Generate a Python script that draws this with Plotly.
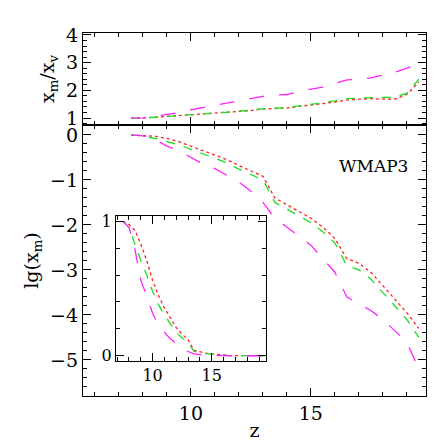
import plotly.graph_objects as go

z = [7.5,8,8.5,9,9.5,10,10.5,11,11.5,12,12.5,13,13.5,14,14.5,15,15.5,16,16.5,17,17.5,18,18.5,19,19.5]
lg_red = [0,-0.01,-0.03,-0.08,-0.15,-0.25,-0.35,-0.45,-0.55,-0.68,-0.8,-0.92,-1.4,-1.55,-1.7,-1.85,-2.05,-2.3,-2.75,-2.85,-3.05,-3.35,-3.65,-3.95,-4.3]
lg_green = [0,-0.02,-0.08,-0.15,-0.22,-0.32,-0.42,-0.52,-0.62,-0.76,-0.88,-1.0,-1.5,-1.65,-1.8,-1.95,-2.15,-2.4,-2.9,-3.0,-3.2,-3.5,-3.8,-4.1,-4.5]
lg_mag = [0,-0.02,-0.1,-0.25,-0.35,-0.5,-0.65,-0.75,-0.9,-1.05,-1.25,-1.5,-1.85,-2.05,-2.25,-2.45,-2.75,-3.05,-3.6,-3.75,-3.9,-4.1,-4.35,-4.6,-5.2]
r_red = [1,1.0,1.03,1.06,1.08,1.1,1.13,1.16,1.2,1.24,1.27,1.33,1.35,1.36,1.42,1.46,1.52,1.58,1.65,1.68,1.7,1.68,1.68,1.85,2.3]
r_green = [1,1.0,1.03,1.06,1.08,1.1,1.13,1.17,1.21,1.25,1.28,1.34,1.36,1.37,1.44,1.49,1.55,1.62,1.7,1.72,1.74,1.75,1.75,1.9,2.4]
r_mag = [1,1.01,1.06,1.12,1.2,1.3,1.38,1.47,1.55,1.62,1.7,1.78,1.83,1.85,1.96,2.05,2.12,2.25,2.38,2.4,2.45,2.55,2.65,2.8,2.95]

RED, GREEN, MAG = "#ff2020", "#22dd22", "#ff22ff"
series = [(lg_red, r_red, RED, "dot"), (lg_green, r_green, GREEN, "dash"), (lg_mag, r_mag, MAG, "longdash")]

fig = go.Figure()
for lg, r, c, d in series:
    fig.add_trace(go.Scatter(x=z, y=r, mode="lines", line=dict(color=c, dash=d, width=1.3), xaxis="x", yaxis="y"))
    fig.add_trace(go.Scatter(x=z, y=lg, mode="lines", line=dict(color=c, dash=d, width=1.3), xaxis="x2", yaxis="y2"))
    fig.add_trace(go.Scatter(x=z, y=[10**v for v in lg], mode="lines", line=dict(color=c, dash=d, width=1.3), xaxis="x3", yaxis="y3"))

F = dict(family="DejaVu Serif", size=19, color="black")
def ax(**kw):
    base = dict(showgrid=False, zeroline=False, ticks="inside", mirror="allticks", showline=True,
                linecolor="black", linewidth=1.2, tickcolor="black", ticklen=8, automargin=False, tickfont=F)
    base.update(kw)
    return base
def mn(d):
    return dict(ticks="inside", ticklen=4, dtick=d, tickcolor="black")
split = 0.7466
fig.update_layout(
    width=443, height=443, showlegend=False, plot_bgcolor="white", paper_bgcolor="white",
    margin=dict(l=75, r=25, t=25, b=55),
    xaxis=ax(domain=[0,1], range=[5.5,19.8], anchor="y", showticklabels=False, dtick=5, minor=mn(1)),
    yaxis=ax(domain=[split,1], range=[0.75,4.07], dtick=1, minor=mn(0.2),
             title=dict(text="x<sub>m</sub>/x<sub>v</sub>", font=F, standoff=6)),
    xaxis2=ax(domain=[0,1], range=[5.5,19.8], anchor="y2", dtick=5, minor=mn(1),
              title=dict(text="z", font=F, standoff=0)),
    yaxis2=ax(domain=[0,split], range=[-5.8,0.22], dtick=1, anchor="x2", minor=mn(0.2),
              title=dict(text="lg(x<sub>m</sub>)", font=F, standoff=6)),
    xaxis3=ax(domain=[0.096,0.534], range=[6.9,19.6], anchor="y3", dtick=5, tickfont=dict(F, size=16), minor=mn(1)),
    yaxis3=ax(domain=[0.096,0.496], range=[-0.04,1.04], anchor="x3", dtick=1, tickfont=dict(F, size=16), minor=mn(0.2)),
    annotations=[dict(text="WMAP3", x=17.6, y=-0.7, xref="x2", yref="y2", showarrow=False, font=dict(F, size=17))],
)
fig.write_html("out.html")
